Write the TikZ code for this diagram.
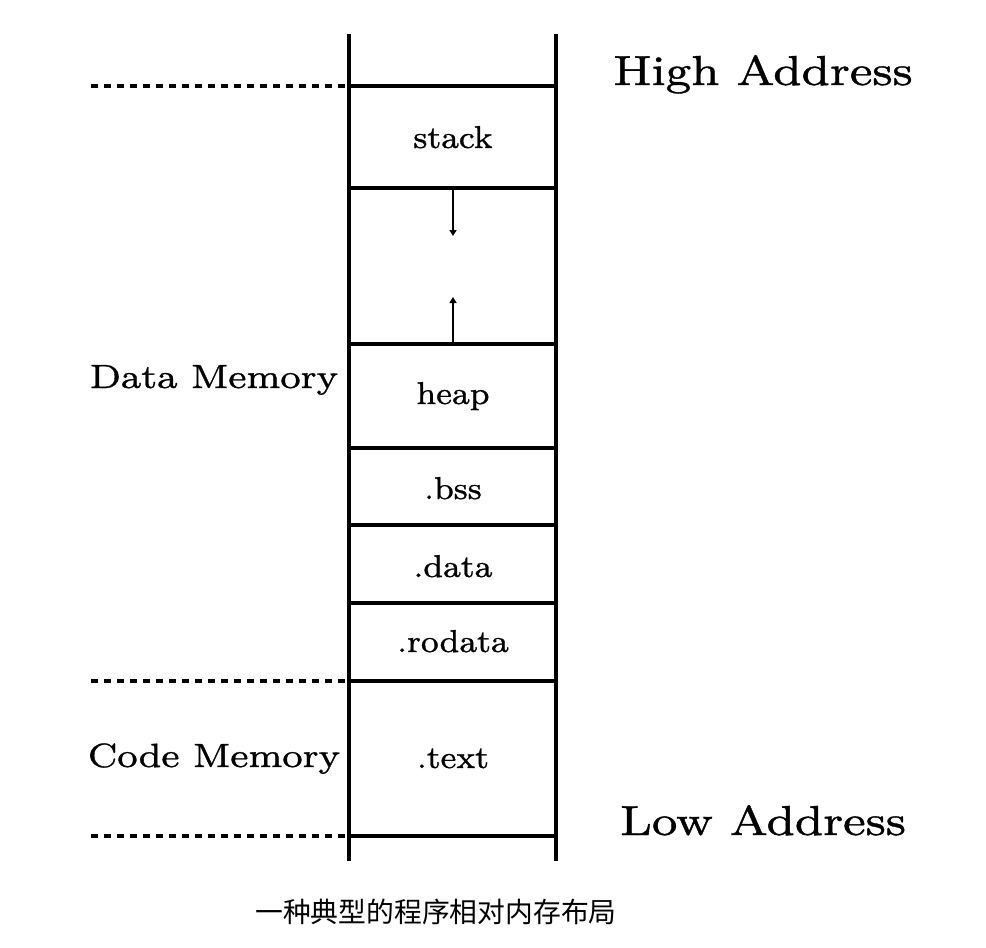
\documentclass[tikz,border=0pt]{standalone}
\usepackage{fontspec}
\usepackage{graphicx}
\newfontfamily\cjk{Noto Sans CJK SC}
\usetikzlibrary{arrows.meta}
\newcommand{\lmeight}[3]{\scalebox{#1}[#2]{\special{pdf:literal direct 2 Tr 0.07 w}\fontsize{8}{9}\selectfont #3\special{pdf:literal direct 0 Tr}}}
\tikzset{
  wall/.style={line width=3.5pt},
  sepline/.style={line width=3.5pt},
  dashsep/.style={line width=3.2pt, dash pattern=on 7pt off 6pt},
  growarrow/.style={line width=1.5pt, -{Triangle[length=6pt,width=7pt]}},
  lbl/.style={inner sep=0pt, anchor=base},
}
\begin{document}
\begin{tikzpicture}[x=1pt,y=-1pt]
\useasboundingbox (0,0) rectangle (986,948);
% walls
\coordinate (wlt) at (349,34);
\coordinate (wlb) at (349,861);
\coordinate (wrt) at (556,34);
\coordinate (wrb) at (556,861);
\draw[wall] (wlt) -- (wlb);
\draw[wall] (wrt) -- (wrb);
% separators
\foreach \y/\n in {86/a,188/b,344/c,448/d,525/e,603/f,681/g,836/h}{
  \coordinate (l\n) at (349,\y);
  \coordinate (r\n) at (556,\y);
  \draw[sepline] (l\n) -- (r\n);
}
\coordinate (da) at (91,86);
\coordinate (dg) at (91,681);
\coordinate (dh) at (91,836);
\draw[dashsep] (da) -- (la);
\draw[dashsep] (dg) -- (lg);
\draw[dashsep] (dh) -- (lh);
% arrows
\coordinate (s1) at (453,189);
\coordinate (e1) at (453,236);
\coordinate (s2) at (453,344);
\coordinate (e2) at (453,297);
\draw[growarrow] (s1) -- (e1);
\draw[growarrow] (s2) -- (e2);
% labels
\node[lbl] (stack) at (453,148) {\lmeight{4.18}{3.95}{stack}};
\node[lbl] (heap) at (453,404) {\lmeight{4.18}{3.95}{heap}};
\node[lbl] (bss) at (453,499) {\lmeight{4.18}{3.95}{.bss}};
\node[lbl] (data) at (453,577) {\lmeight{4.18}{3.95}{.data}};
\node[lbl] (rodata) at (453,652) {\lmeight{4.18}{3.95}{.rodata}};
\node[lbl] (text) at (453,768) {\lmeight{4.18}{3.95}{.text}};
\node[lbl] (dm) at (214,388) {\lmeight{4.79}{4.2}{Data Memory}};
\node[lbl] (cm) at (214,767) {\lmeight{4.79}{4.2}{Code Memory}};
\node[lbl] (ha) at (763,85) {\lmeight{6.0}{5.24}{High Address}};
\node[lbl] (la2) at (763,835) {\lmeight{6.0}{5.24}{Low Address}};
\node[lbl] (cap) at (436,922) {\cjk\fontsize{27.8}{32}\selectfont 一种典型的程序相对内存布局};
\end{tikzpicture}
\end{document}
